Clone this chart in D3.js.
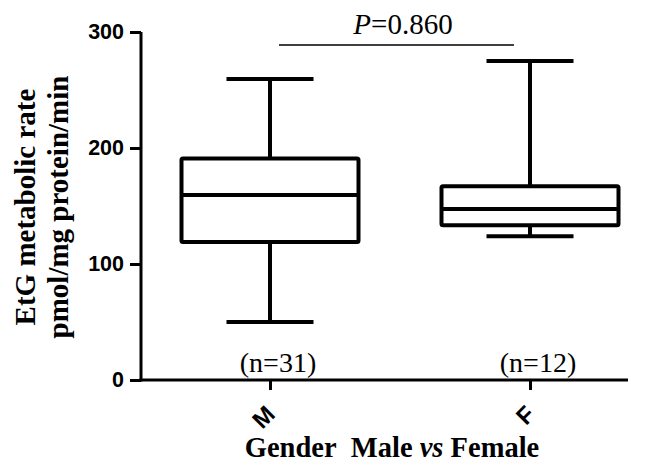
<!DOCTYPE html>
<html><head><meta charset="utf-8">
<script src="https://cdn.jsdelivr.net/npm/d3@7"></script>
<style>body{margin:0;background:#fff}</style>
</head><body>
<svg id="c" width="648" height="465"></svg>
<script>
const categories = ["M", "F"];
const nLabels = ["(n=31)", "(n=12)"];
const whiskerLow = [50, 124];
const q1 = [119, 133.5];
const median = [159.5, 147.5];
const q3 = [191, 167];
const whiskerHigh = [259.5, 275];
const yTicks = [0, 100, 200, 300];
const pText = "0.860";

const svg = d3.select("#c");
const x0 = 141, x1 = 628, yTop = 32, yBot = 380;
const y = d3.scaleLinear().domain([0, 300]).range([yBot, yTop]);
const x = d3.scalePoint().domain(categories).range([270, 530]);
const serif = "Liberation Serif, Times New Roman, serif";
const sans = "Liberation Sans, Arial, sans-serif";

// y axis
const ya = svg.append("g").attr("transform", `translate(${x0},0)`)
  .call(d3.axisLeft(y).tickValues(yTicks).tickSize(11).tickPadding(6));
ya.select(".domain").attr("stroke-width", 3).attr("d", `M0,${yTop}V${yBot + 1.5}`);
ya.selectAll(".tick line").attr("stroke-width", 3);
ya.selectAll(".tick text").style("font-family", sans)
  .style("font-weight", "bold").style("font-size", "21.5px").attr("fill", "#000");

// x axis
const xa = svg.append("g").attr("transform", `translate(0,${yBot})`)
  .call(d3.axisBottom(x).tickSize(10));
xa.select(".domain").attr("stroke-width", 3).attr("d", `M${x0 - 1.5},0H${x1}`);
xa.selectAll(".tick line").attr("stroke-width", 3).attr("y1", 1);
xa.selectAll(".tick text").style("font-family", sans)
  .style("font-weight", "bold").style("font-size", "24px").attr("fill", "#000")
  .attr("text-anchor", "end").attr("x", 0).attr("y", 0).attr("dy", "0.35em")
  .attr("transform", "translate(0,30) rotate(-45)");

// boxes
const boxW = 177, capW = 87;
categories.forEach((c, i) => {
  const cx = x(c);
  const g = svg.append("g").attr("stroke", "#000").attr("stroke-width", 4).attr("fill", "none");
  g.append("line").attr("x1", cx).attr("x2", cx).attr("y1", y(whiskerHigh[i])).attr("y2", y(q3[i]));
  g.append("line").attr("x1", cx).attr("x2", cx).attr("y1", y(q1[i])).attr("y2", y(whiskerLow[i]));
  g.append("line").attr("x1", cx - capW/2).attr("x2", cx + capW/2).attr("y1", y(whiskerHigh[i])).attr("y2", y(whiskerHigh[i]));
  g.append("line").attr("x1", cx - capW/2).attr("x2", cx + capW/2).attr("y1", y(whiskerLow[i])).attr("y2", y(whiskerLow[i]));
  g.append("rect").attr("x", cx - boxW/2).attr("y", y(q3[i])).attr("width", boxW)
    .attr("height", y(q1[i]) - y(q3[i])).attr("rx", 1.5).attr("fill", "#fff");
  g.append("line").attr("x1", cx - boxW/2).attr("x2", cx + boxW/2).attr("y1", y(median[i])).attr("y2", y(median[i]));
  svg.append("text").attr("x", cx + 8).attr("y", 372).attr("text-anchor", "middle")
    .style("font-family", serif).style("font-size", "28px")
    .text(nLabels[i]);
});

// significance line
svg.append("line").attr("x1", 279).attr("x2", 514).attr("y1", 45).attr("y2", 45)
  .attr("stroke", "#000").attr("stroke-width", 1.5);
const pt = svg.append("text").attr("x", 403).attr("y", 34).attr("text-anchor", "middle")
  .style("font-family", serif).style("font-size", "29px");
pt.append("tspan").attr("font-style", "italic").text("P");
pt.append("tspan").text("=" + pText);

// y title
const yt = svg.append("text").attr("transform", "translate(0,207) rotate(-90)")
  .attr("text-anchor", "middle").style("font-family", serif)
  .style("font-weight", "bold").style("font-size", "29px");
yt.append("tspan").attr("x", 0).attr("y", 35).text("EtG metabolic rate");
yt.append("tspan").attr("x", 0).attr("y", 68).text("pmol/mg protein/min");

// x title
const xt = svg.append("text").attr("x", 392).attr("y", 457).attr("text-anchor", "middle")
  .style("font-family", serif)
  .style("font-weight", "bold").style("font-size", "28.5px");
xt.append("tspan").text("Gender\u00a0\u00a0Male ");
xt.append("tspan").attr("font-style", "italic").text("vs");
xt.append("tspan").text(" Female");
</script>
</body></html>
